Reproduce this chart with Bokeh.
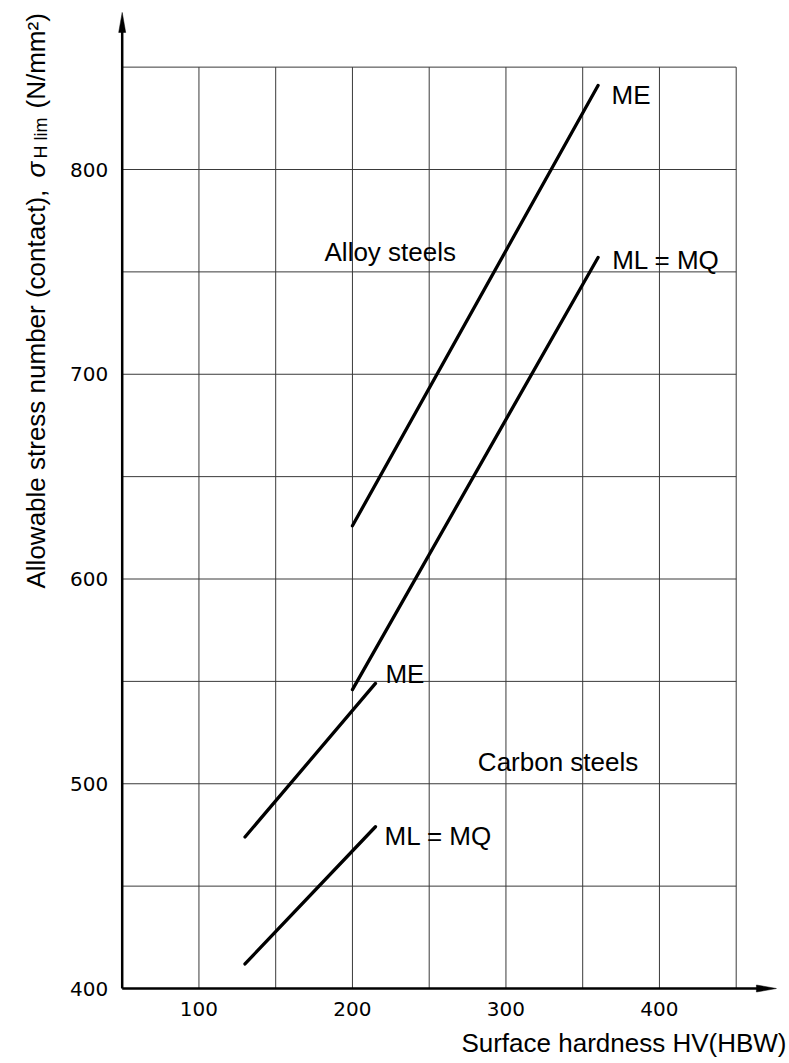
from bokeh.plotting import figure
from bokeh.models import Range1d, Label
from bokeh.embed import file_html
from bokeh.resources import INLINE
import math

# Surface hardness HV(HBW) and allowable contact stress sigma_H lim (N/mm2)
alloy_me_hv = [200, 360]
alloy_me_sigma = [626, 841]
alloy_mlmq_hv = [200, 360]
alloy_mlmq_sigma = [546, 757]
carbon_me_hv = [130, 215]
carbon_me_sigma = [474, 549]
carbon_mlmq_hv = [130, 215]
carbon_mlmq_sigma = [412, 479]

x_ticks = [100, 200, 300, 400]
y_ticks = [400, 500, 600, 700, 800]
grid_x = [100, 150, 200, 250, 300, 350, 400, 450]
grid_y = [450, 500, 550, 600, 650, 700, 750, 800, 850]

X0, X1 = 50, 450      # chart box in hardness units
Y0, Y1 = 400, 850     # chart box in stress units
X_END, Y_END = 476.2, 876.7   # arrow tips of the axes

SX = 1.535    # px per hardness unit
SY = 2.0475   # px per stress unit
LEFT_PX, BOTTOM_PX = 121.7, 988.0   # where the axes cross on the page

TEXT_FONT = "Liberation Sans"
TICK_FONT = "DejaVu Sans"
W, H = 789, 1063

# the plotting frame fills the whole page; axes are drawn on it
p = figure(width=W, height=H, output_backend="svg", toolbar_location=None,
           x_axis_location=None, y_axis_location=None,
           x_range=Range1d(X0 - LEFT_PX / SX, X0 + (W - LEFT_PX) / SX),
           y_range=Range1d(Y0 - (H - BOTTOM_PX) / SY, Y0 + BOTTOM_PX / SY),
           min_border=0, outline_line_color=None)
p.background_fill_color = "white"
p.border_fill_color = "white"
p.xgrid.visible = False
p.ygrid.visible = False


def px_x(v):
    return X0 + (v - LEFT_PX) / SX


def px_y(v):
    return Y0 + (BOTTOM_PX - v) / SY


# grid box
p.segment(x0=grid_x, y0=[Y0] * len(grid_x), x1=grid_x, y1=[Y1] * len(grid_x),
          line_color="#3a3a3a", line_width=1)
p.segment(x0=[X0] * len(grid_y), y0=grid_y, x1=[X1] * len(grid_y), y1=grid_y,
          line_color="#3a3a3a", line_width=1)

# axis lines with arrow heads (20 px long, 7 px wide)
p.segment(x0=[X0, X0], y0=[Y0, Y0], x1=[X_END - 10 / SX, X0], y1=[Y0, Y_END - 10 / SY],
          line_color="black", line_width=2.5)
p.patch([X_END, X_END - 20 / SX, X_END - 20 / SX],
        [Y0, Y0 + 3.5 / SY, Y0 - 3.5 / SY], color="black", line_width=0.5)
p.patch([X0, X0 + 3.5 / SX, X0 - 3.5 / SX],
        [Y_END, Y_END - 20 / SY, Y_END - 20 / SY], color="black", line_width=0.5)

# tick labels
p.text(x=x_ticks, y=[Y0] * len(x_ticks), text=[str(t) for t in x_ticks],
       y_offset=13, text_align="center", text_baseline="top",
       text_font={"value": TICK_FONT}, text_font_size="20px", text_color="black")
p.text(x=[X0] * len(y_ticks), y=y_ticks, text=[str(t) for t in y_ticks],
       x_offset=-14, text_align="right", text_baseline="middle",
       text_font={"value": TICK_FONT}, text_font_size="20px", text_color="black")

# stress curves
for xs, ys in ((alloy_me_hv, alloy_me_sigma), (alloy_mlmq_hv, alloy_mlmq_sigma),
               (carbon_me_hv, carbon_me_sigma), (carbon_mlmq_hv, carbon_mlmq_sigma)):
    p.line(xs, ys, line_color="black", line_width=3.3, line_cap="round")


def add_text(text, x, y, size="26px", angle=0.0, style="normal", align="left"):
    p.add_layout(Label(x=x, y=y, text=text, angle=angle, text_font=TEXT_FONT,
                       text_font_size=size, text_font_style=style,
                       text_align=align, text_baseline="alphabetic",
                       text_color="black"))


# curve and region labels
add_text("ME", 368.8, 836.6)
add_text("ML = MQ", 369.2, 755.6)
add_text("Alloy steels", 181.8, 759.5)
add_text("Carbon steels", 281.7, 510.4)
add_text("ME", 221.5, 553.8)
add_text("ML = MQ", 220.9, 474.7)

# axis titles
add_text("Surface hardness HV(HBW)", px_x(786), px_y(1042), align="right")
rot = math.pi / 2
add_text("Allowable stress number (contact),", px_x(35), px_y(588), angle=rot)
add_text("\u03c3", px_x(35), px_y(177), angle=rot, style="italic")
add_text("H lim", px_x(40), px_y(158), size="18px", angle=rot)
add_text("(N/mm\u00b2)", px_x(35), px_y(108), angle=rot)

open("out.html", "w").write(file_html(p, INLINE))
